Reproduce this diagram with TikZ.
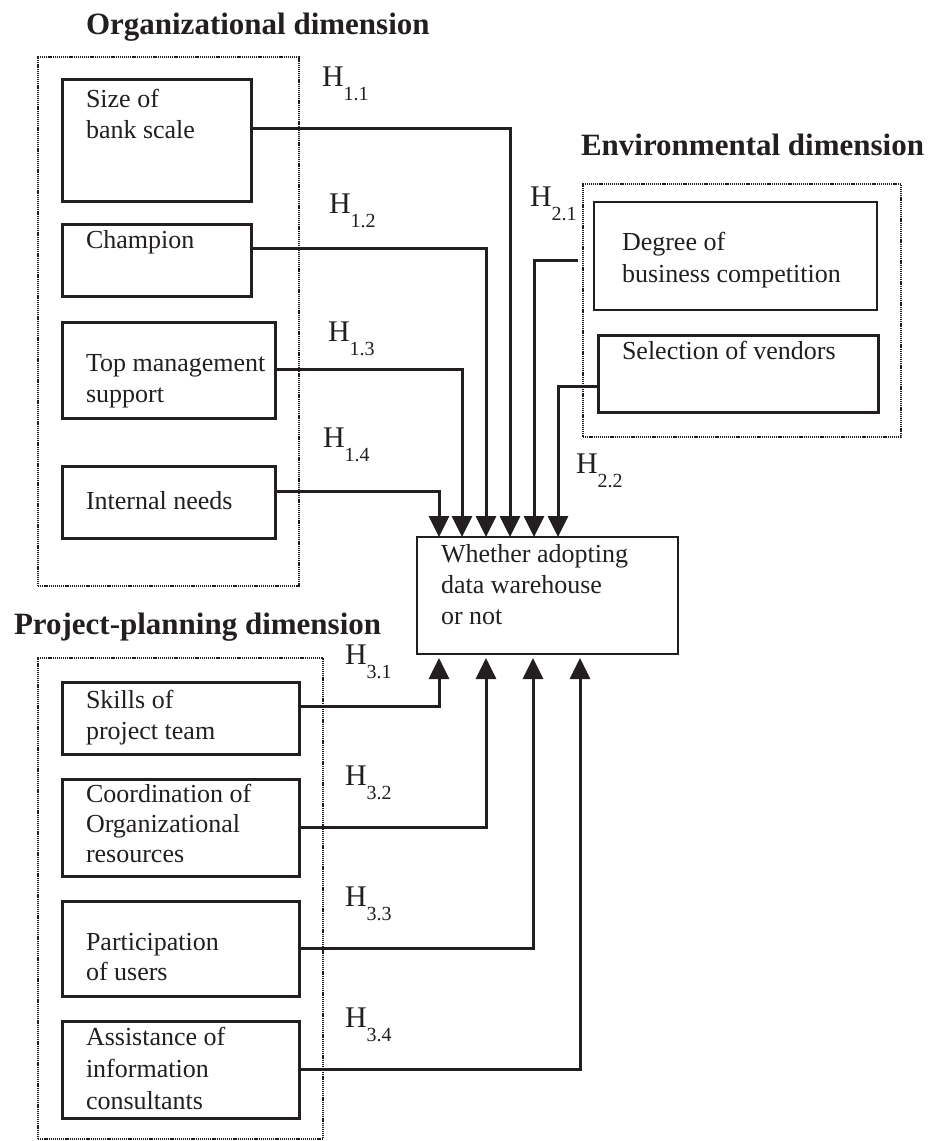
\documentclass[tikz,border=0pt]{standalone}
\usepackage{fontspec}
\setmainfont{Liberation Serif}
\usetikzlibrary{arrows.meta}
\definecolor{ink}{HTML}{231F20}
% subscript of a hypothesis label
\newcommand\hsub[1]{\raisebox{-14pt}{\fontsize{20}{20}\selectfont #1}}
\begin{document}
\begin{tikzpicture}[x=1pt,y=-1pt,
  every node/.style={inner sep=0pt, outer sep=0pt, text=ink},
  group/.style={draw=ink, line width=2.2pt, dash pattern=on 1.2pt off 0.9pt, anchor=north west},
  factor/.style={draw=ink, line width=3pt, anchor=north west},
  thinbox/.style={draw=ink, line width=1.2pt, anchor=north west},
  % base west of a text node is the baseline of its last line
  txt/.style={anchor=base west, align=left, font=\fontsize{26}{31}\selectfont},
  hyp/.style={anchor=base west, font=\fontsize{30}{30}\selectfont},
  dimtitle/.style={anchor=base west, font=\bfseries\fontsize{31}{31}\selectfont},
  conn/.style={draw=ink, line width=3pt},
  tip/.style={-{Triangle[width=20pt,length=21pt]}}
]
\useasboundingbox[fill=white] (0,0) rectangle (937,1141);

% dimension groups
\node[group, minimum width=261, minimum height=529] (orggroup) at (38,57) {};
\node[group, minimum width=318, minimum height=253] (envgroup) at (583,184) {};
\node[group, minimum width=285, minimum height=481] (projgroup) at (38,658) {};

\node[dimtitle] (orgtitle) at (86,34) {Organizational dimension};
\node[dimtitle] (envtitle) at (581,155) {Environmental dimension};
\node[dimtitle] (projtitle) at (14,634) {Project-planning dimension};

% organizational factors
\node[factor, minimum width=189, minimum height=122] (size) at (62,79) {};
\node[txt] (sizet) at (86,138) {Size of\\bank scale};
\node[factor, minimum width=189, minimum height=72] (champ) at (62,224) {};
\node[txt] (champt) at (86,248) {Champion};
\node[factor, minimum width=213, minimum height=96] (topm) at (62,322) {};
\node[txt] (topmt) at (86,402) {Top management\\support};
\node[factor, minimum width=213, minimum height=72] (intn) at (62,466) {};
\node[txt] (intnt) at (86,509) {Internal needs};

% environmental factors
\node[thinbox, minimum width=283, minimum height=108] (degree) at (594,202) {};
\node[txt, font=\fontsize{26}{32}\selectfont] (degreet) at (622,282) {Degree of\\business competition};
\node[factor, minimum width=280, minimum height=77] (selv) at (598,335) {};
\node[txt] (selvt) at (622,359) {Selection of vendors};

% outcome
\node[thinbox, minimum width=261, minimum height=117] (main) at (417,537) {};
\node[txt] (maint) at (441,624) {Whether adopting\\data warehouse\\or not};

% project-planning factors
\node[factor, minimum width=237, minimum height=72] (skills) at (62,682) {};
\node[txt] (skillst) at (86,739) {Skills of\\project team};
\node[factor, minimum width=237, minimum height=97] (coord) at (62,779) {};
\node[txt, font=\fontsize{26}{30}\selectfont] (coordt) at (86,862) {Coordination of\\Organizational\\resources};
\node[factor, minimum width=237, minimum height=95] (partic) at (62,901) {};
\node[txt, font=\fontsize{26}{30}\selectfont] (partict) at (86,980) {Participation\\of users};
\node[factor, minimum width=237, minimum height=97] (assist) at (62,1021) {};
\node[txt, font=\fontsize{26}{32}\selectfont] (assistt) at (86,1109) {Assistance of\\information\\consultants};

% hypothesis labels
\node[hyp] (h11) at (322,86) {H\hsub{1.1}};
\node[hyp] (h12) at (329,213) {H\hsub{1.2}};
\node[hyp] (h13) at (328,341) {H\hsub{1.3}};
\node[hyp] (h14) at (323,447) {H\hsub{1.4}};
\node[hyp] (h21) at (530,206) {H\hsub{2.1}};
\node[hyp] (h22) at (576,473) {H\hsub{2.2}};
\node[hyp] (h31) at (345,664) {H\hsub{3.1}};
\node[hyp] (h32) at (345,785) {H\hsub{3.2}};
\node[hyp] (h33) at (345,906) {H\hsub{3.3}};
\node[hyp] (h34) at (345,1027) {H\hsub{3.4}};

% hypothesised paths
\draw[conn,tip] ([yshift=12pt]size.east) -| ([xshift=93pt]main.north west);
\draw[conn,tip] ([yshift=12pt]champ.east) -| ([xshift=69pt]main.north west);
\draw[conn,tip] ([yshift=1pt]topm.east) -| ([xshift=45pt]main.north west);
\draw[conn,tip] ([yshift=11pt]intn.east) -| ([xshift=22pt]main.north west);
\draw[conn,tip] ([xshift=-16pt,yshift=-4pt]degree.west) -| ([xshift=117pt]main.north west);
\draw[conn,tip] ([yshift=-12.5pt]selv.west) -| ([xshift=141pt]main.north west);

\draw[conn,tip] ([yshift=12pt]skills.east) -| ([xshift=22pt,yshift=-4pt]main.south west);
\draw[conn,tip] (coord.east) -| ([xshift=69pt,yshift=-4pt]main.south west);
\draw[conn,tip] (partic.east) -| ([xshift=116pt,yshift=-4pt]main.south west);
\draw[conn,tip] (assist.east) -| ([xshift=163pt,yshift=-4pt]main.south west);
\end{tikzpicture}
\end{document}
